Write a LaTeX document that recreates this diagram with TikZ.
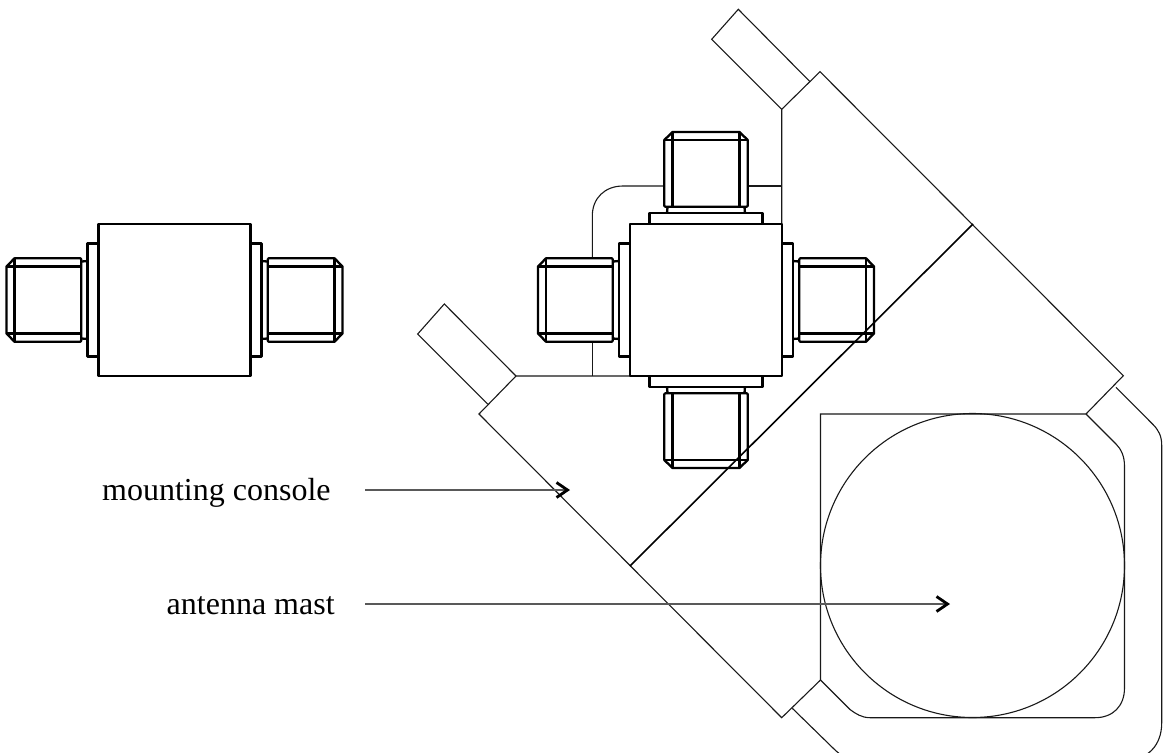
\documentclass[tikz,border=0pt]{standalone}
\usepackage{fontspec}
\setmainfont{Liberation Serif}
\usetikzlibrary{arrows.meta}
\tikzset{
  thinline/.style={line width=1.1pt,black!90,line join=miter},
  heavy/.style={line width=2.3pt,black,line join=round},
  medline/.style={line width=1.6pt,black},
  pointer/.style={line width=1.4pt,black!65,-{Straight Barb[length=11pt,width=15pt,line width=2.8pt,black]}},
  caption/.style={font=\fontsize{32}{36}\selectfont,inner sep=0pt,anchor=base west}
}
\newcommand{\connarm}{%
  \draw[heavy] (76,-56.6) -- (87,-56.6) -- (87,56.6) -- (76,56.6);
  \draw[heavy] (87,-39) .. controls (89,-39) and (90,-38.5) .. (93.2,-38.5) (87,39) .. controls (89,39) and (90,38.5) .. (93.2,38.5);
  \draw[heavy,fill=white] (93.2,-40.5) -- (94.2,-41.7) -- (160,-41.7) -- (168,-33.5) -- (168,33.5) -- (160,41.7) -- (94.2,41.7) -- (93.2,40.5) -- cycle;
  \draw[heavy] (93.2,-33.5) -- (168,-33.5) (93.2,33.5) -- (168,33.5) (160,-41.7) -- (160,41.7);
}
\begin{document}
\begin{tikzpicture}[x=1pt,y=-1pt]
\useasboundingbox (0,0) rectangle (1163,753);
\clip (0,0) rectangle (1163,753);
% mount outline
\draw[thinline] (781.7,109.3) -- (711.7,39.3) -- (738.3,9.3) -- (810,81.7);
\draw[thinline] (781.7,224) -- (781.7,109.3) -- (820,71.7) -- (1123.3,375.7) -- (1086,414) -- (820.5,414) -- (820.5,680) -- (781.7,717.7) -- (479,414) -- (516,376) -- (630,376);
\draw[thinline] (516,376) -- (444.3,304) -- (417.7,334) -- (487.7,404);
\draw[thinline] (592.3,376) -- (592.3,341);
\draw[thinline] (592.3,257.5) -- (592.3,216) .. controls (592.3,198) and (605,186) .. (623,186) -- (664,186);
\draw[thinline] (747.3,186) -- (781.7,186);
\draw[thinline] (1086,414) -- (1116,444) .. controls (1121,449) and (1124.5,456) .. (1124.5,466) -- (1124.5,688) .. controls (1124.5,706) and (1113,717.7) .. (1095,717.7) -- (870,717.7) .. controls (862,717.7) and (856,714) .. (850,709.5) -- (820.5,680);
\draw[thinline] (1116,387.3) -- (1153,424.5) .. controls (1158.5,430) and (1161.7,436) .. (1161.7,445) -- (1161.7,723) .. controls (1161.7,745) and (1148,760) .. (1126,760) -- (858,760) .. controls (848,760) and (841,756) .. (833.3,748.3) -- (792.3,708.3);
\node[draw,thinline,circle,minimum size=304pt,inner sep=0pt] (mast) at (972.5,565.5) {};
% left connector
\begin{scope}[shift={(174.5,300)}]
  \foreach \a in {0,180} {\begin{scope}[rotate=\a]\connarm\end{scope}}
  \draw[heavy] (-76,-76) rectangle (76,76);
\end{scope}
% right connector
\begin{scope}[shift={(706,300)}]
  \foreach \a in {0,90,180,270} {\begin{scope}[rotate=\a]\connarm\end{scope}}
  \draw[heavy] (-76,-76) rectangle (76,76);
\end{scope}
% separator
\coordinate (sepa) at (973,224);
\coordinate (sepb) at (630,566);
\draw[medline] (sepa) -- (sepb);
% labels
\node[caption] (lab1) at (102,500) {mounting console};
\node[caption] (lab2) at (166.5,614.5) {antenna mast};
\coordinate (t1) at (570,490);
\coordinate (t2) at (950,604);
\coordinate (s1) at (365,490);
\coordinate (s2) at (365,604);
\draw[pointer] (s1) -- (t1);
\draw[pointer] (s2) -- (t2);
\end{tikzpicture}
\end{document}
